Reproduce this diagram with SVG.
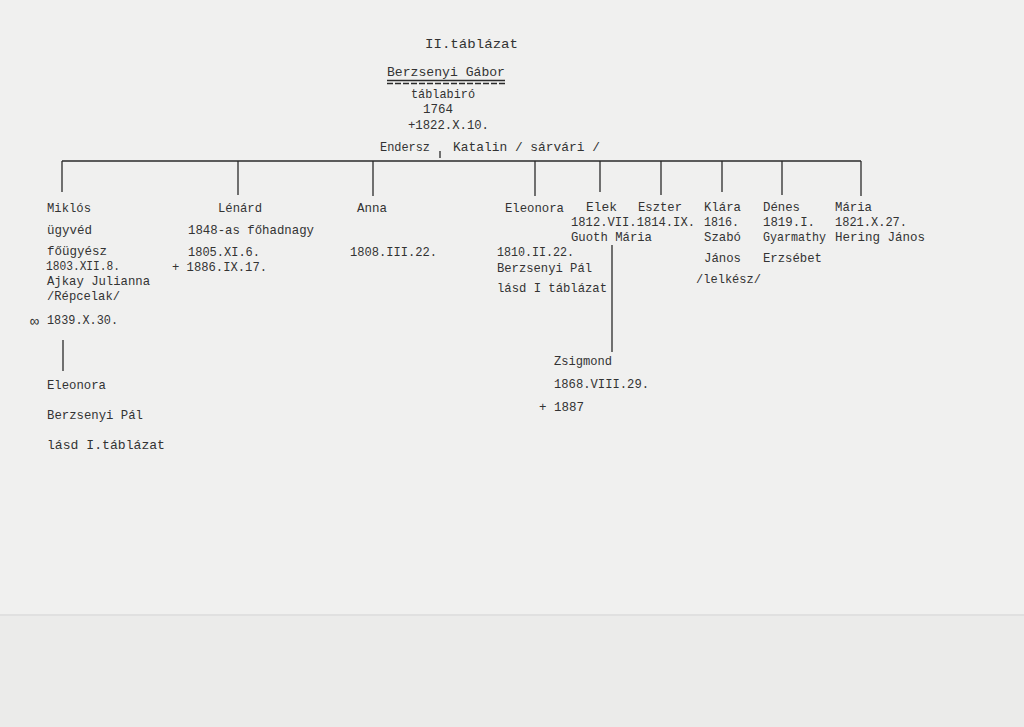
<svg xmlns="http://www.w3.org/2000/svg" width="1024" height="727" viewBox="0 0 1024 727">
<style>
text{font-family:"Liberation Mono","DejaVu Sans Mono",monospace;font-size:13px;fill:#333;}
.ln{stroke:#2a2a2a;stroke-width:1.3;fill:none}
</style>
<rect x="0" y="0" width="1024" height="727" fill="#f0f0ef"/>
<rect x="0" y="614" width="1024" height="113" fill="#ebebea"/>
<line x1="0" y1="615" x2="1024" y2="615" stroke="#dcdcdc" stroke-width="1.5"/>

<g id="connectors" class="ln">
<line x1="440" y1="151" x2="440" y2="158"/>
<line x1="62" y1="161" x2="861" y2="161"/>
<line x1="62" y1="161" x2="62" y2="192"/>
<line x1="238" y1="161" x2="238" y2="195"/>
<line x1="373" y1="161" x2="373" y2="196"/>
<line x1="535" y1="161" x2="535" y2="196"/>
<line x1="600" y1="161" x2="600" y2="192"/>
<line x1="661" y1="161" x2="661" y2="195"/>
<line x1="722" y1="161" x2="722" y2="192"/>
<line x1="782" y1="161" x2="782" y2="195"/>
<line x1="861" y1="161" x2="861" y2="196"/>
<line x1="63" y1="340" x2="63" y2="371"/>
<line x1="612" y1="245" x2="612" y2="352"/>
</g>

<g id="title"><text x="425" y="48" textLength="93" lengthAdjust="spacingAndGlyphs">II.táblázat</text></g>

<g id="gabor">
<text x="387" y="76" textLength="118" lengthAdjust="spacingAndGlyphs">Berzsenyi  Gábor</text>
<line x1="387" y1="80.5" x2="505" y2="80.5" class="ln" stroke-width="1"/>
<line x1="387" y1="83.5" x2="505" y2="83.5" class="ln" stroke-width="1" stroke-dasharray="6 2"/>
<text x="411" y="98" textLength="64" lengthAdjust="spacingAndGlyphs">táblabiró</text>
<text x="423" y="113" textLength="30" lengthAdjust="spacingAndGlyphs">1764</text>
<text x="408" y="129" textLength="81" lengthAdjust="spacingAndGlyphs">+1822.X.10.</text>
<text x="380" y="151" textLength="50" lengthAdjust="spacingAndGlyphs">Endersz</text>
<text x="453" y="151" textLength="147" lengthAdjust="spacingAndGlyphs">Katalin / sárvári /</text>
</g>

<g id="miklos">
<text x="47" y="212" textLength="44" lengthAdjust="spacingAndGlyphs">Miklós</text>
<text x="47" y="234" textLength="45" lengthAdjust="spacingAndGlyphs">ügyvéd</text>
<text x="47" y="255" textLength="60" lengthAdjust="spacingAndGlyphs">főügyész</text>
<text x="46" y="270" textLength="74" lengthAdjust="spacingAndGlyphs">1803.XII.8.</text>
<text x="47" y="285" textLength="103" lengthAdjust="spacingAndGlyphs">Ajkay Julianna</text>
<text x="47" y="300" textLength="73" lengthAdjust="spacingAndGlyphs">/Répcelak/</text>
<text x="30" y="326" style="font-size:15px">∞</text>
<text x="47" y="324" textLength="71" lengthAdjust="spacingAndGlyphs">1839.X.30.</text>
</g>

<g id="eleonora-1">
<text x="47" y="389" textLength="59" lengthAdjust="spacingAndGlyphs">Eleonora</text>
<text x="47" y="419" textLength="96" lengthAdjust="spacingAndGlyphs">Berzsenyi Pál</text>
<text x="47" y="449" textLength="118" lengthAdjust="spacingAndGlyphs">lásd  I.táblázat</text>
</g>

<g id="lenard">
<text x="218" y="212" textLength="44" lengthAdjust="spacingAndGlyphs">Lénárd</text>
<text x="188" y="234" textLength="126" lengthAdjust="spacingAndGlyphs">1848-as főhadnagy</text>
<text x="188" y="256" textLength="72" lengthAdjust="spacingAndGlyphs">1805.XI.6.</text>
<text x="172" y="271" textLength="95" lengthAdjust="spacingAndGlyphs">+ 1886.IX.17.</text>
</g>

<g id="anna">
<text x="357" y="212" textLength="30" lengthAdjust="spacingAndGlyphs">Anna</text>
<text x="350" y="256" textLength="87" lengthAdjust="spacingAndGlyphs">1808.III.22.</text>
</g>

<g id="eleonora">
<text x="505" y="212" textLength="59" lengthAdjust="spacingAndGlyphs">Eleonora</text>
<text x="497" y="256" textLength="77" lengthAdjust="spacingAndGlyphs">1810.II.22.</text>
<text x="497" y="272" textLength="95" lengthAdjust="spacingAndGlyphs">Berzsenyi Pál</text>
<text x="497" y="292" textLength="110" lengthAdjust="spacingAndGlyphs">lásd I táblázat</text>
</g>

<g id="elek">
<text x="586" y="211" textLength="31" lengthAdjust="spacingAndGlyphs">Elek</text>
<text x="571" y="226" textLength="124" lengthAdjust="spacingAndGlyphs">1812.VII.1814.IX.</text>
<text x="571" y="241" textLength="81" lengthAdjust="spacingAndGlyphs">Guoth Mária</text>
</g>

<g id="eszter">
<text x="638" y="211" textLength="44" lengthAdjust="spacingAndGlyphs">Eszter</text>
</g>

<g id="klara">
<text x="704" y="211" textLength="37" lengthAdjust="spacingAndGlyphs">Klára</text>
<text x="704" y="226" textLength="35" lengthAdjust="spacingAndGlyphs">1816.</text>
<text x="704" y="241" textLength="37" lengthAdjust="spacingAndGlyphs">Szabó</text>
<text x="704" y="262" textLength="37" lengthAdjust="spacingAndGlyphs">János</text>
<text x="696" y="283" textLength="65" lengthAdjust="spacingAndGlyphs">/lelkész/</text>
</g>

<g id="denes">
<text x="763" y="211" textLength="37" lengthAdjust="spacingAndGlyphs">Dénes</text>
<text x="763" y="226" textLength="52" lengthAdjust="spacingAndGlyphs">1819.I.</text>
<text x="763" y="241" textLength="63" lengthAdjust="spacingAndGlyphs">Gyarmathy</text>
<text x="763" y="262" textLength="59" lengthAdjust="spacingAndGlyphs">Erzsébet</text>
</g>

<g id="maria">
<text x="835" y="211" textLength="37" lengthAdjust="spacingAndGlyphs">Mária</text>
<text x="835" y="226" textLength="72" lengthAdjust="spacingAndGlyphs">1821.X.27.</text>
<text x="835" y="241" textLength="90" lengthAdjust="spacingAndGlyphs">Hering János</text>
</g>

<g id="zsigmond">
<text x="554" y="365" textLength="58" lengthAdjust="spacingAndGlyphs">Zsigmond</text>
<text x="554" y="388" textLength="95" lengthAdjust="spacingAndGlyphs">1868.VIII.29.</text>
<text x="539" y="411" textLength="45" lengthAdjust="spacingAndGlyphs">+ 1887</text>
</g>
</svg>
